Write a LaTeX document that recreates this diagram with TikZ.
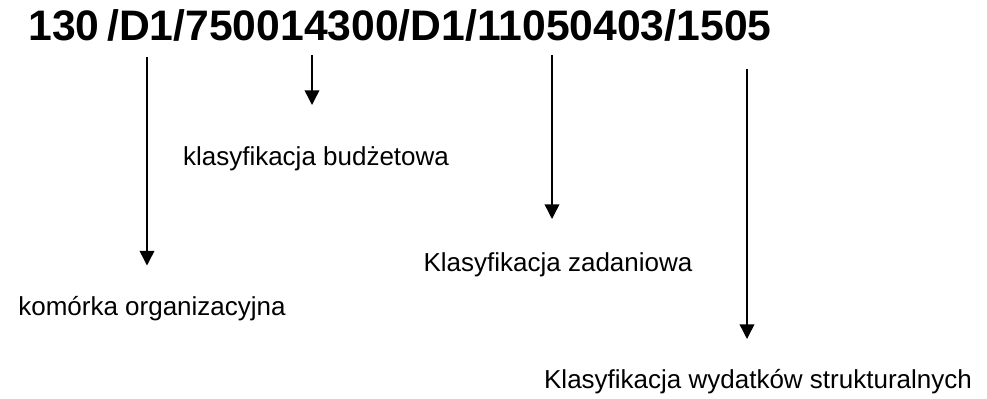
\documentclass[tikz,border=0pt]{standalone}
\usepackage{fontspec}
\setmainfont{Liberation Sans}
\usepackage{tikz}
\usetikzlibrary{arrows.meta}
\newcommand{\kodfont}{\fontsize{32}{38}\selectfont\bfseries\spaceskip=0.18em\relax}

\begin{document}
\begin{tikzpicture}[x=0.75pt,y=-0.75pt,>={Triangle[width=11pt,length=11pt]},
	opis/.style={font=\fontsize{19.5}{23}\selectfont, inner sep=0, anchor=base},
	strz/.style={->, line width=1.1pt}]
		\useasboundingbox (0,0) rectangle (987,399);
		%kod
		\node [inner sep=0, anchor=base] (kod) at (400,40.5) {\kodfont 130 /D1/750014300/D1/11050403/1505};
		%1
		\coordinate (g1) at (147,57);
		\coordinate (d1) at (147,265.5);
		\draw [strz] (g1) -- (d1);
		\node [opis] (komorka) at (152,315) {komórka organizacyjna};
		%2
		\coordinate (g2) at (312,55);
		\coordinate (d2) at (312,105);
		\draw [strz] (g2) -- (d2);
		\node [opis] (budzet) at (316,166) {klasyfikacja budżetowa};
		%3
		\coordinate (g3) at (552,55);
		\coordinate (d3) at (552,219);
		\draw [strz] (g3) -- (d3);
		\node [opis] (zadan) at (558,271) {Klasyfikacja zadaniowa};
		%4
		\coordinate (g4) at (747,69);
		\coordinate (d4) at (747,339);
		\draw [strz] (g4) -- (d4);
		\node [opis] (wydatki) at (758,388) {Klasyfikacja wydatków strukturalnych};
\end{tikzpicture}
\end{document}
